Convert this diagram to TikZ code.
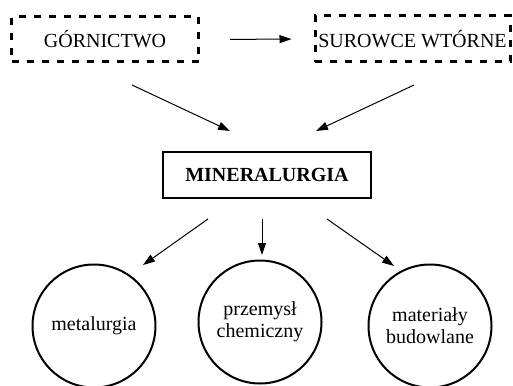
\documentclass[tikz,border=0pt]{standalone}
\usepackage{fontspec}
\setmainfont{Liberation Serif}
\usetikzlibrary{arrows.meta}
\begin{document}
\begin{tikzpicture}[x=1pt,y=-1pt,
  txt/.style={font=\fontsize{20}{22}\selectfont, align=center, inner sep=0pt},
  dbox/.style={txt, draw, line width=3pt, dash pattern=on 7pt off 8pt, rectangle},
  sbox/.style={txt, draw, line width=2pt, rectangle, font=\fontsize{20}{22}\selectfont\bfseries},
  circ/.style={txt, draw, line width=2pt, circle, minimum size=123pt},
  arr/.style={-{Triangle[length=12pt,width=8pt]}, line width=1pt}]
\useasboundingbox (0,0) rectangle (513,385);
\clip (0,0) rectangle (513,385);
\node[dbox, minimum width=187pt, minimum height=45pt] (g) at (105,39.5) {GÓRNICTWO};
\node[dbox, minimum width=195pt, minimum height=46pt] (s) at (412.5,39) {SUROWCE WTÓRNE};
\node[sbox, minimum width=208pt, minimum height=46pt] (m) at (267,175) {MINERALURGIA};
\node[circ] (c1) at (94,326) {metalurgia};
\node[circ] (c2) at (260,322) {przemysł\\chemiczny};
\node[circ] (c3) at (430,326) {materiały\\budowlane};
\coordinate (a1s) at (132,85);
\coordinate (a1e) at (230,131);
\coordinate (a2s) at (414,85);
\coordinate (a2e) at (316,131);
\coordinate (b1s) at (208,219);
\coordinate (b1e) at (143,265);
\coordinate (b2s) at (262,219);
\coordinate (b2e) at (262,255);
\coordinate (b3s) at (327,219);
\coordinate (b3e) at (394,266);
\draw[arr, shorten <=30pt, shorten >=22pt] (g.east) -- (s.west);
\draw[arr] (a1s) -- (a1e);
\draw[arr] (a2s) -- (a2e);
\draw[arr] (b1s) -- (b1e);
\draw[arr] (b2s) -- (b2e);
\draw[arr] (b3s) -- (b3e);
\end{tikzpicture}
\end{document}
